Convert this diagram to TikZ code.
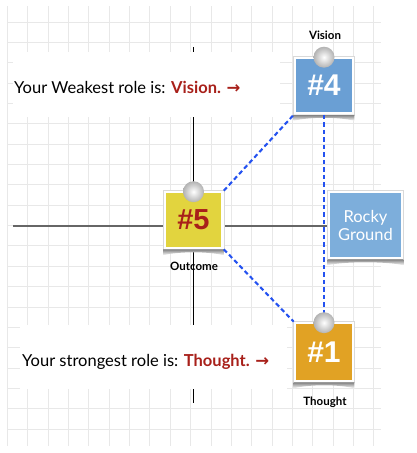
\documentclass[tikz,border=0pt]{standalone}
\usepackage{fontspec}
\setmainfont{Lato}
\newfontfamily\arialfont{Liberation Sans}
\newfontfamily\arrowfont{DejaVu Sans}
\definecolor{gridc}{HTML}{E8E8E8}
\definecolor{darkred}{HTML}{A8201A}
\definecolor{noteyellow}{HTML}{E2D43E}
\definecolor{noteblue}{HTML}{6A9FD4}
\definecolor{noteorange}{HTML}{E1A224}
\definecolor{rockyblue}{HTML}{7DAEDB}
\definecolor{dashblue}{HTML}{2452F0}
\newcommand\mynoteshadow[1]{%
  \shade[top color=black!50, bottom color=white]
    (#1.south west) -- (#1.south east) -- ++(0,6)
    .. controls +(-15,-4) and +(15,-4) .. ($(#1.south west)+(0,6)$) -- cycle;}
\usetikzlibrary{calc}
\begin{document}
\begin{tikzpicture}[x=1pt,y=-1pt,
  gridline/.style={draw=gridc, line width=0.9},
  note/.style={draw=white, line width=2.6, inner sep=0, minimum width=58, minimum height=56,
    font=\arialfont\bfseries\fontsize{30}{30}\selectfont, text=white},
  outline/.style={draw=black!15, line width=0.4},
  tag/.style={font=\bfseries\fontsize{11.5}{13}\selectfont},
  conn/.style={draw=dashblue, line width=2.1, dash pattern=on 4.5pt off 3pt},
  msg/.style={anchor=base west, inner sep=0, font=\fontsize{16.5}{19}\selectfont},
  pin/.style={inner color=white, outer color=black!30}]
\useasboundingbox (0,0) rectangle (416,453);
% grid
\begin{scope}
  \clip (7,6) rectangle (381,446);
  \foreach \i in {0,...,18} \draw[gridline] ({7.4+20.36*\i},6) -- ++(0,440);
  \foreach \j in {0,...,21} \draw[gridline] (7,{1.6+20.36*\j}) -- ++(374,0);
\end{scope}
% axes
\draw[black, line width=0.9] (193,47) -- (193,403);
\draw[black!60, line width=1.4] (13,226) -- (330,226);
% message boxes
\fill[white] (13,52) rectangle (280,117);
\fill[white] (20,325) rectangle (287,389);
\node[msg] (weak) at (14,93) {Your Weakest role is: \textcolor{darkred}{\bfseries Vision.} {\arrowfont\bfseries\color{darkred}→}};
\node[msg] (strong) at (22,366) {Your strongest role is: \textcolor{darkred}{\bfseries Thought.} {\arrowfont\bfseries\color{darkred}→}};
% notes
\node[note, fill=noteyellow, text=darkred, font=\arialfont\bfseries\fontsize{29}{29}\selectfont] (n5) at (193.5,220) {\raisebox{-2pt}{\#5}};
\node[note, fill=noteblue] (n4) at (324,85.5) {\raisebox{-2pt}{\#4}};
\node[note, fill=noteorange, minimum height=58] (n1) at (324,352) {\raisebox{-1pt}{\#1}};
\node[note, fill=rockyblue, minimum width=73, minimum height=66,
  font=\fontsize{16.5}{18}\selectfont, align=center] (rocky) at (365.5,225) {Rocky\\Ground};
\foreach \n in {n5,n4,n1,rocky} {
  \draw[outline] ($(\n.south west)+(-0.3,0.3)$) rectangle ($(\n.north east)+(0.3,-0.3)$);
  \mynoteshadow{\n}
}
% labels
\node[tag] (lv) at (325,35) {Vision};
\node[tag] (lo) at (194,266) {Outcome};
\node[tag] (lt) at (325,402) {Thought};
% connectors
\draw[conn] (n5.north east) -- (n4.south west);
\draw[conn] (n5.south east) -- (n1.north west);
\draw[conn] (n4.south) -- (n1.north);
% pins
\foreach \n in {n5,n4,n1} \shade[pin] ($(\n.north)+(0,1)$) circle (10.5);
\end{tikzpicture}
\end{document}
